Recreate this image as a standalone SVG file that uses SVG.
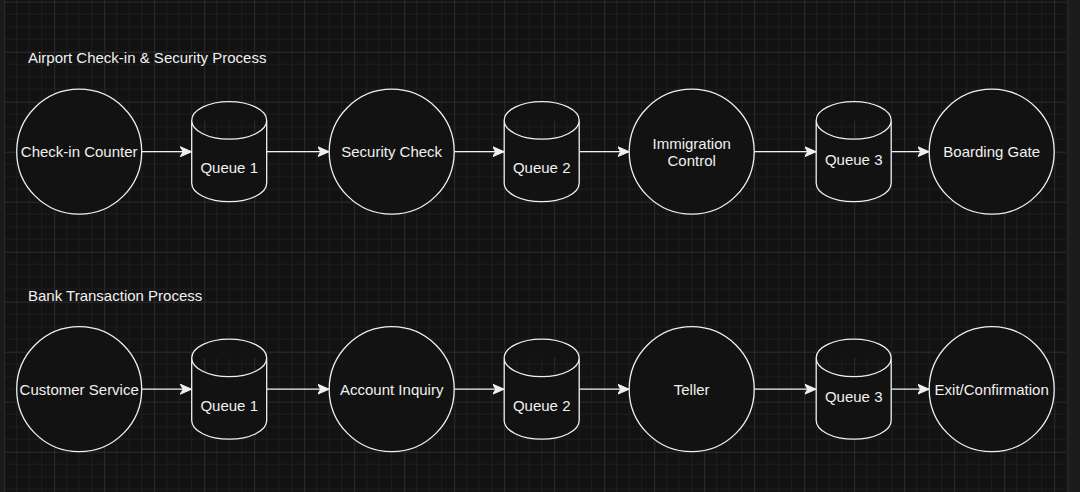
<svg xmlns="http://www.w3.org/2000/svg" width="1080" height="492" viewBox="0 0 1080 492">
<defs>
<style>
.bg{fill:#121212}
.minor{stroke:#1e1e1e;stroke-width:1;fill:none}
.major{stroke:#2c2c2c;stroke-width:1;fill:none}
.shape{fill:#121212;stroke:#f0f0f0;stroke-width:1.3}
.edge{stroke:#f0f0f0;stroke-width:1.3;fill:none;marker-end:url(#arrow)}
text{font-family:"Liberation Sans",Arial,Helvetica,sans-serif;font-size:15px;fill:#f0f0f0}
.c{text-anchor:middle}
</style>
<pattern id="grid" patternUnits="userSpaceOnUse" x="4.2" y="1.7" width="50" height="50">
<path class="minor" d="M12.5,0V50M25,0V50M37.5,0V50M0,12.5H50M0,25H50M0,37.5H50"/>
<path class="major" d="M0.5,0V50M0,0.5H50"/>
</pattern>
<marker id="arrow" markerUnits="userSpaceOnUse" viewBox="0 0 12 11" refX="11.5" refY="5.5" markerWidth="12" markerHeight="11" orient="auto">
<path d="M0,0.5L11.5,5.5L0,10.5L3,5.5Z" fill="#f0f0f0" stroke="#f0f0f0" stroke-width="1"/>
</marker>
<path id="cyl" d="M0,18.75A37.5,18.75 0 0 1 75,18.75V81.25A37.5,18.75 0 0 1 0,81.25ZM0,18.75A37.5,18.75 0 0 0 75,18.75"/>
</defs>
<rect class="bg" x="0" y="0" width="1080" height="492"/>
<rect x="4" y="0" width="1062" height="492" fill="url(#grid)"/>
<rect x="0" y="0" width="4" height="492" fill="#1a1a1a"/>
<rect x="1066" y="0" width="14" height="492" fill="#1c1c1c"/>
<line x1="1068.5" y1="0" x2="1068.5" y2="492" stroke="#262626"/>

<g id="title-airport"><text x="28" y="63.3">Airport Check-in &amp; Security Process</text></g>
<g id="title-bank"><text x="28" y="301">Bank Transaction Process</text></g>

<g id="connectors">
<line class="edge" x1="141.7" y1="151.7" x2="191.7" y2="151.7"/>
<line class="edge" x1="266.7" y1="151.7" x2="329.2" y2="151.7"/>
<line class="edge" x1="454.2" y1="151.7" x2="504.2" y2="151.7"/>
<line class="edge" x1="579.2" y1="151.7" x2="629.2" y2="151.7"/>
<line class="edge" x1="754.2" y1="151.7" x2="816.2" y2="151.7"/>
<line class="edge" x1="891.2" y1="151.7" x2="929.2" y2="151.7"/>
<line class="edge" x1="141.7" y1="389.2" x2="191.7" y2="389.2"/>
<line class="edge" x1="266.7" y1="389.2" x2="329.2" y2="389.2"/>
<line class="edge" x1="454.2" y1="389.2" x2="504.2" y2="389.2"/>
<line class="edge" x1="579.2" y1="389.2" x2="629.2" y2="389.2"/>
<line class="edge" x1="754.2" y1="389.2" x2="816.2" y2="389.2"/>
<line class="edge" x1="891.2" y1="389.2" x2="929.2" y2="389.2"/>
</g>

<g id="checkin-counter"><circle class="shape" cx="79.2" cy="151.7" r="62.5"/><text class="c" x="79.2" y="157.3">Check-in Counter</text></g>
<g id="a-queue1"><use href="#cyl" class="shape" x="191.7" y="101.7"/><text class="c" x="229.2" y="173.3">Queue 1</text></g>
<g id="security-check"><circle class="shape" cx="391.7" cy="151.7" r="62.5"/><text class="c" x="391.7" y="157.3">Security Check</text></g>
<g id="a-queue2"><use href="#cyl" class="shape" x="504.2" y="101.7"/><text class="c" x="541.7" y="173.3">Queue 2</text></g>
<g id="immigration-control"><circle class="shape" cx="691.7" cy="151.7" r="62.5"/><text class="c" x="691.7" y="148.5">Immigration</text><text class="c" x="691.7" y="166">Control</text></g>
<g id="a-queue3"><use href="#cyl" class="shape" x="816.2" y="101.7"/><text class="c" x="853.7" y="164.6">Queue 3</text></g>
<g id="boarding-gate"><circle class="shape" cx="991.7" cy="151.7" r="62.5"/><text class="c" x="991.7" y="157.3">Boarding Gate</text></g>

<g id="customer-service"><circle class="shape" cx="79.2" cy="389.2" r="62.5"/><text class="c" x="79.2" y="394.5">Customer Service</text></g>
<g id="b-queue1"><use href="#cyl" class="shape" x="191.7" y="339.2"/><text class="c" x="229.2" y="411">Queue 1</text></g>
<g id="account-inquiry"><circle class="shape" cx="391.7" cy="389.2" r="62.5"/><text class="c" x="391.7" y="394.5">Account Inquiry</text></g>
<g id="b-queue2"><use href="#cyl" class="shape" x="504.2" y="339.2"/><text class="c" x="541.7" y="411">Queue 2</text></g>
<g id="teller"><circle class="shape" cx="691.7" cy="389.2" r="62.5"/><text class="c" x="691.7" y="394.5">Teller</text></g>
<g id="b-queue3"><use href="#cyl" class="shape" x="816.2" y="339.2"/><text class="c" x="853.7" y="402">Queue 3</text></g>
<g id="exit-confirmation"><circle class="shape" cx="991.7" cy="389.2" r="62.5"/><text class="c" x="991.7" y="394.5">Exit/Confirmation</text></g>
</svg>
